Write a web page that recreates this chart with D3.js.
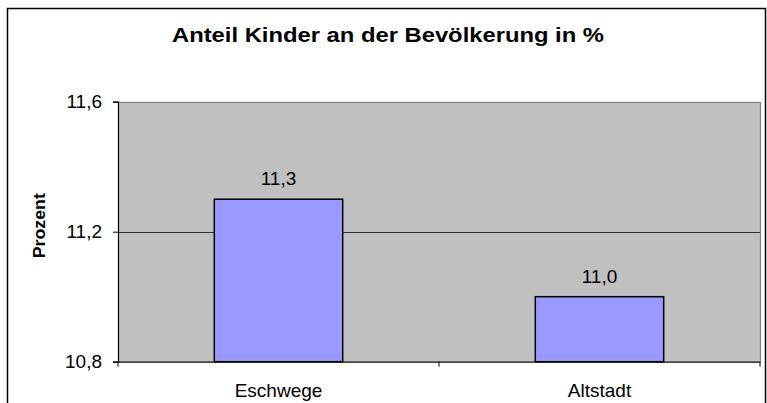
<!DOCTYPE html>
<html>
<head>
<meta charset="utf-8">
<script src="https://cdn.jsdelivr.net/npm/d3@7"></script>
<style>
  html, body { margin: 0; padding: 0; background: #ffffff; }
  svg { display: block; font-family: "Liberation Sans", Arial, sans-serif; }
</style>
</head>
<body>
<svg id="chart" width="767" height="403"></svg>
<script>
const categories = ["Eschwege", "Altstadt"];
const values = [11.3, 11.0];
const valueLabels = ["11,3", "11,0"];
const yTicks = [10.8, 11.2, 11.6];
const yTickLabels = ["10,8", "11,2", "11,6"];
const title = "Anteil Kinder an der Bevölkerung in %";
const yTitle = "Prozent";

const svg = d3.select("#chart");
const plot = { left: 118, right: 760, top: 101.7, bottom: 361.7 };

// outer chart border
svg.append("rect")
  .attr("x", 7.5).attr("y", 8.5)
  .attr("width", 758).attr("height", 420)
  .attr("fill", "#ffffff").attr("stroke", "#000000").attr("stroke-width", 1.5);

const x = d3.scaleBand().domain(categories)
  .range([plot.left, plot.right]).paddingInner(0.6).paddingOuter(0.3);
const xCat = d3.scaleBand().domain(categories).range([plot.left, plot.right]);
const y = d3.scaleLinear().domain([10.8, 11.6]).range([plot.bottom, plot.top]);

// plot area background
svg.append("rect")
  .attr("x", plot.left).attr("y", plot.top)
  .attr("width", plot.right - plot.left).attr("height", plot.bottom - plot.top)
  .attr("fill", "#c0c0c0");

// gridlines
svg.append("g").selectAll("line")
  .data(yTicks.filter(t => t > 10.8 && t < 11.6))
  .join("line")
  .attr("x1", plot.left).attr("x2", plot.right)
  .attr("y1", d => Math.round(y(d)) + 0.5).attr("y2", d => Math.round(y(d)) + 0.5)
  .attr("stroke", "#333333").attr("stroke-width", 1);

// top & right plot border (gray)
svg.append("path")
  .attr("d", `M${plot.left},${Math.round(plot.top)+0.5}H${plot.right+0.5}V${plot.bottom}`)
  .attr("fill", "none").attr("stroke", "#808080").attr("stroke-width", 1.2);

// bars
svg.append("g").selectAll("rect")
  .data(values)
  .join("rect")
  .attr("x", (d, i) => x(categories[i]))
  .attr("y", d => y(d))
  .attr("width", x.bandwidth())
  .attr("height", d => plot.bottom - y(d))
  .attr("fill", "#9999ff").attr("stroke", "#000000").attr("stroke-width", 1.5);

// value labels
svg.append("g").selectAll("text")
  .data(values)
  .join("text")
  .attr("x", (d, i) => x(categories[i]) + x.bandwidth() / 2)
  .attr("y", d => y(d) - 14)
  .attr("text-anchor", "middle")
  .attr("font-size", 19)
  .attr("fill", "#000")
  .text((d, i) => valueLabels[i]);

// y axis
const yAxis = d3.axisLeft(y).tickValues(yTicks)
  .tickFormat((d, i) => yTickLabels[i]).tickSize(5).tickPadding(11);
const gy = svg.append("g").attr("transform", `translate(${plot.left},0)`).call(yAxis);
gy.select(".domain").attr("stroke", "#000").attr("stroke-width", 1.2);
gy.selectAll(".tick line").attr("stroke", "#000");
gy.selectAll(".tick text").attr("font-size", 19).attr("fill", "#000")
  .attr("font-family", "'Liberation Sans', Arial, sans-serif");

// x axis
const xAxis = d3.axisBottom(xCat).tickSize(0).tickPadding(0).tickSizeOuter(0);
const gx = svg.append("g").attr("transform", `translate(0,${plot.bottom})`).call(xAxis);
gx.select(".domain").attr("stroke", "#000").attr("stroke-width", 1.2);
gx.selectAll(".tick text").attr("font-size", 19).attr("fill", "#000")
  .attr("font-family", "'Liberation Sans', Arial, sans-serif")
  .attr("dy", null).attr("y", 35);
// category separator ticks
const sepX = [plot.left].concat(categories.map(c => xCat(c) + xCat.bandwidth()));
svg.append("g").selectAll("line")
  .data(sepX).join("line")
  .attr("x1", d => d).attr("x2", d => d)
  .attr("y1", plot.bottom).attr("y2", plot.bottom + 5)
  .attr("stroke", "#000").attr("stroke-width", 1);

// title
svg.append("text")
  .attr("x", 388).attr("y", 41.7)
  .attr("text-anchor", "middle")
  .attr("font-size", 20).attr("font-weight", "bold")
  .attr("textLength", 432).attr("lengthAdjust", "spacingAndGlyphs")
  .text(title);

// y axis title
svg.append("text")
  .attr("transform", `translate(45,${(plot.top + plot.bottom) / 2 - 6}) rotate(-90)`)
  .attr("text-anchor", "middle")
  .attr("font-size", 16).attr("font-weight", "bold")
  .attr("textLength", 65).attr("lengthAdjust", "spacingAndGlyphs")
  .text(yTitle);
</script>
</body>
</html>
